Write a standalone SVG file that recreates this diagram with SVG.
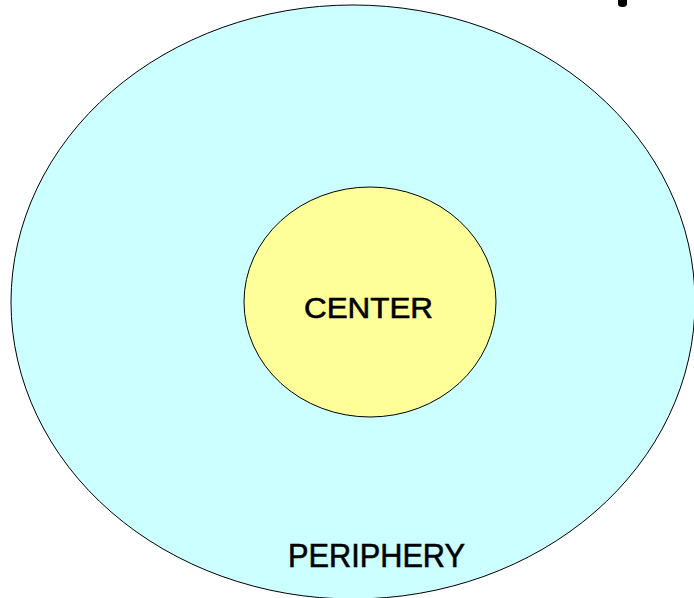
<svg xmlns="http://www.w3.org/2000/svg" width="694" height="598" viewBox="0 0 694 598">
<style>
.lbl{font-family:"Liberation Sans",Arial,sans-serif;fill:#000;text-anchor:middle;stroke:#000;stroke-width:0.6}
</style>
<rect width="694" height="598" fill="#fff"/>
<g id="periphery">
<ellipse cx="353" cy="302" rx="342" ry="297" fill="#ccffff" stroke="#000" stroke-width="1"/>
<text class="lbl" x="376.5" y="567" font-size="33" textLength="177" lengthAdjust="spacingAndGlyphs">PERIPHERY</text>
</g>
<g id="center">
<ellipse cx="370" cy="302" rx="126" ry="115" fill="#ffff99" stroke="#000" stroke-width="1"/>
<text class="lbl" x="368.5" y="318" font-size="29" textLength="129" lengthAdjust="spacingAndGlyphs">CENTER</text>
</g>
<g id="connectors"></g>
<path d="M618,0 L627,0 L627,4 Q627,7 622.5,7 Q618,7 618,4 Z" fill="#000"/>
</svg>
